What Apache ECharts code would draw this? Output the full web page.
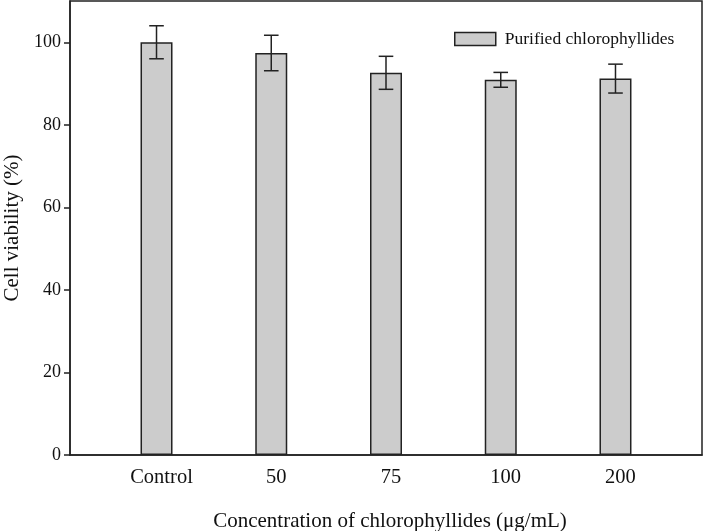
<!DOCTYPE html>
<html>
<head>
<meta charset="utf-8">
<script src="https://cdn.jsdelivr.net/npm/echarts@6/dist/echarts.min.js"></script>
<style>html,body{margin:0;padding:0;background:#fff;}#c{width:703px;height:531px;}</style>
</head>
<body>
<div id="c"></div>
<script>
var categories = ['Control', '50', '75', '100', '200'];
var viability = [100.0, 97.4, 92.6, 90.9, 91.2];
var errors = [4.0, 4.3, 4.0, 1.8, 3.5];
var yTicks = [0, 20, 40, 60, 80, 100];
var seriesName = 'Purified chlorophyllides';
var xTitle = 'Concentration of chlorophyllides (\u03bcg/mL)';
var yTitle = 'Cell viability (%)';

var FONT = 'Liberation Serif';
var chart = echarts.init(document.getElementById('c'), null, {renderer: 'canvas'});
var idx = categories.map(function (c, i) { return i; });
var barData = viability.map(function (v, i) { return [i, v]; });
var errData = viability.map(function (v, i) { return [i, v - errors[i], v + errors[i]]; });

var option = {
  backgroundColor: '#fff',
  animation: false,
  grid: {left: 70, right: 1, top: 1, bottom: 76, containLabel: false, outerBoundsMode: 'none',
         show: true, borderColor: '#222', borderWidth: 1.5, backgroundColor: 'transparent'},
  legend: {
    data: [seriesName], left: 454, top: 30, padding: 0,
    itemWidth: 41, itemHeight: 13, icon: 'rect',
    itemStyle: {color: '#cccccc', borderColor: '#222', borderWidth: 1.5},
    textStyle: {fontFamily: FONT, fontSize: 17.5, color: '#111', padding: [0, 0, 0, 4]}
  },
  xAxis: {
    type: 'value', min: -0.754, max: 4.754,
    splitLine: {show: false},
    axisLine: {show: true, onZero: false, lineStyle: {color: '#222', width: 1.5}},
    axisTick: {show: false},
    axisLabel: {
      customValues: idx, fontFamily: FONT, fontSize: 20.5, color: '#111', margin: 12,
      padding: [0, 0, 0, 10],
      formatter: function (v) { var i = Math.round(v); return categories[i] !== undefined ? categories[i] : ''; }
    },
    name: xTitle, nameLocation: 'middle', nameGap: 56,
    nameTextStyle: {fontFamily: FONT, fontSize: 21, color: '#111', padding: [0, 0, 0, 8]}
  },
  yAxis: {
    type: 'value', min: 0, max: 110,
    splitLine: {show: false},
    axisLine: {show: true, onZero: false, lineStyle: {color: '#222', width: 1.5}},
    axisTick: {show: true, inside: false, length: 6, customValues: yTicks, lineStyle: {color: '#222', width: 1.5}},
    axisLabel: {customValues: yTicks, fontFamily: FONT, fontSize: 18, color: '#111', margin: 9},
    name: yTitle, nameLocation: 'middle', nameGap: 47,
    nameTextStyle: {fontFamily: FONT, fontSize: 21, color: '#111'}
  },
  series: [
    {
      name: seriesName, type: 'bar', data: barData, barWidth: 32,
      itemStyle: {color: '#cccccc', borderColor: '#222', borderWidth: 1.5}
    },
    {
      type: 'custom', name: 'err', data: errData, z: 10,
      renderItem: function (params, api) {
        var x = api.value(0);
        var lo = api.coord([x, api.value(1)]);
        var hi = api.coord([x, api.value(2)]);
        var hw = 7.3;
        var st = {stroke: '#222', lineWidth: 1.5, fill: null};
        return {
          type: 'group',
          children: [
            {type: 'line', shape: {x1: lo[0], y1: lo[1], x2: hi[0], y2: hi[1]}, style: st},
            {type: 'line', shape: {x1: lo[0] - hw, y1: lo[1], x2: lo[0] + hw, y2: lo[1]}, style: st},
            {type: 'line', shape: {x1: hi[0] - hw, y1: hi[1], x2: hi[0] + hw, y2: hi[1]}, style: st}
          ]
        };
      }
    }
  ]
};
chart.setOption(option);
</script>
</body>
</html>
